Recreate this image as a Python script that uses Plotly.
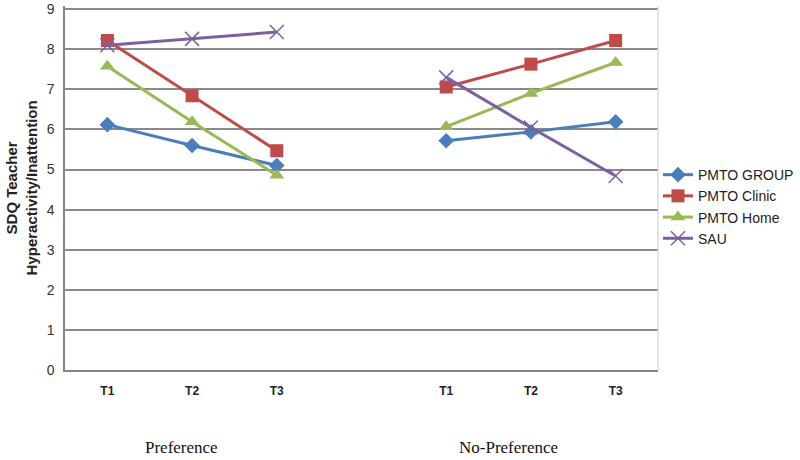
import plotly.graph_objects as go

x_labels = ["T1", "T2", "T3", "", "T1", "T2", "T3"]
group_labels = ["Preference", "No-Preference"]
series_names = ["PMTO GROUP", "PMTO Clinic", "PMTO Home", "SAU"]
pmto_group = [6.12, 5.60, 5.10, None, 5.72, 5.94, 6.19]
pmto_clinic = [8.22, 6.84, 5.47, None, 7.06, 7.63, 8.22]
pmto_home = [7.58, 6.19, 4.86, None, 6.07, 6.90, 7.67]
sau = [8.10, 8.26, 8.43, None, 7.30, 6.05, 4.84]
y_ticks = [0, 1, 2, 3, 4, 5, 6, 7, 8, 9]

colors = ["#4A7EBB", "#BE4B48", "#98B954", "#7D60A0"]
symbols = ["diamond", "square", "triangle-up", "x-thin"]
sizes = [12, 13, 13, 14]
values = [pmto_group, pmto_clinic, pmto_home, sau]

xs = list(range(len(x_labels)))
fig = go.Figure()
for name, vals, c, s, sz in zip(series_names, values, colors, symbols, sizes):
    marker = dict(symbol=s, size=sz, color=c)
    if s == "x-thin":
        marker["line"] = dict(color=c, width=1.5)
    fig.add_trace(go.Scatter(x=xs, y=vals, name=name, mode="lines+markers",
                             line=dict(color=c, width=3), marker=marker,
                             connectgaps=False))

fig.update_layout(
    width=800, height=460,
    margin=dict(l=65, r=137, t=1, b=90),
    paper_bgcolor="white", plot_bgcolor="white",
    font=dict(family="Liberation Sans", size=13, color="#333333"),
    showlegend=True,
    legend=dict(x=1.0, y=0.449, xanchor="left", yanchor="middle",
                font=dict(family="Liberation Sans", size=14, color="#222222"),
                tracegroupgap=0, itemwidth=30, bgcolor="rgba(0,0,0,0)"),
    xaxis=dict(range=[-0.5, 6.5], tickmode="array", tickvals=xs,
               ticktext=["<b>%s</b>" % t for t in x_labels],
               showgrid=False, zeroline=False, showline=True,
               linecolor="#868686", linewidth=1.5, ticks="",
               ticklabelstandoff=9,
               tickfont=dict(family="Liberation Sans", size=12, color="#222222")),
    yaxis=dict(range=[0, 9.08], tickmode="array", tickvals=y_ticks,
               showgrid=True, gridcolor="#8a8a8a",
               gridwidth=1.5, zeroline=False, showline=True,
               linecolor="#868686", linewidth=1.5, ticks="",
               ticklabelstandoff=6, ticklabeloverflow="allow",
               tickfont=dict(family="Liberation Sans", size=14, color="#333333")),
)

fig.add_shape(type="line", xref="paper", yref="paper", x0=1, x1=1, y0=0, y1=1,
              line=dict(color="#c8c8c8", width=1))

fig.add_annotation(text="<b>SDQ Teacher<br>Hyperactivity/Inattention</b>",
                   xref="paper", yref="paper", x=-0.0735, y=0.5,
                   xanchor="center", yanchor="middle", textangle=-90,
                   showarrow=False,
                   font=dict(family="Liberation Sans", size=15, color="#222222"))

for lbl, xpos in zip(group_labels, [0.87, 4.74]):
    fig.add_annotation(text=lbl, xref="x", yref="paper", x=xpos, y=-0.214,
                       xanchor="center", yanchor="middle", showarrow=False,
                       font=dict(family="Liberation Serif", size=17, color="#111111"))

fig.write_html("out.html", config={"displayModeBar": False},
               post_script="document.body.style.margin='0px';")
